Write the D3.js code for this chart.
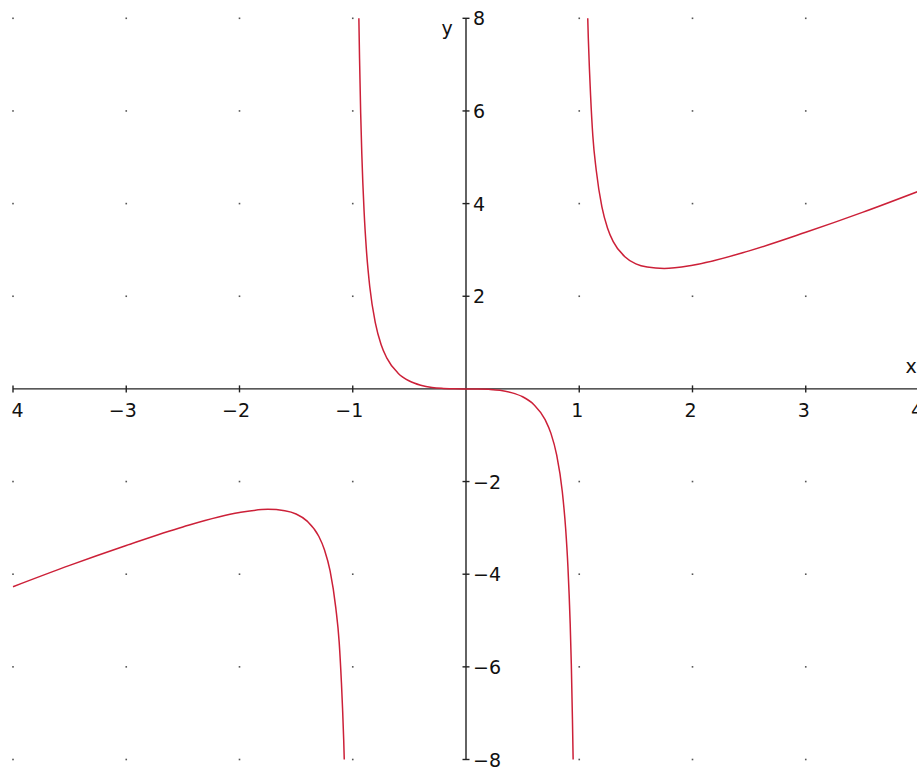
<!DOCTYPE html>
<html>
<head>
<meta charset="utf-8">
<script src="https://cdn.jsdelivr.net/npm/d3@7"></script>
<style>
  html, body { margin: 0; padding: 0; background: #fff; }
  svg { display: block; }
  text { font-family: "DejaVu Sans", Verdana, sans-serif; fill: #111; }
</style>
</head>
<body>
<div id="chart"></div>
<script>
// values
const xDomain = [-4, 4];
const yDomain = [-8, 8];
const xTicks = [-4, -3, -2, -1, 1, 2, 3, 4];
const xTickLabels = ["4", "−3", "−2", "−1", "1", "2", "3", "4"]; // left "−" is cut off in the picture
const yTicks = [-8, -6, -4, -2, 2, 4, 6, 8];
const yTickLabels = ["−8", "−6", "−4", "−2", "2", "4", "6", "8"];
const dotX = [-4, -3, -2, -1, 1, 2, 3, 4];
const dotY = [-8, -6, -4, -2, 2, 4, 6, 8];

// left branch (x < -1)
const leftX = [-4, -3.5, -3, -2.5, -2, -1.75, -1.6, -1.5, -1.4, -1.3, -1.25, -1.2, -1.15, -1.12, -1.1, -1.09, -1.08, -1.075];
const leftY = [-4.27, -3.81, -3.38, -2.98, -2.67, -2.6, -2.63, -2.7, -2.86, -3.18, -3.47, -3.93, -4.72, -5.46, -6.34, -6.9, -7.57, -8];
// middle branch (-1 < x < 1)
const midX = [-0.946, -0.94, -0.93, -0.92, -0.9, -0.88, -0.85, -0.8, -0.75, -0.7, -0.6, -0.5, -0.4, -0.3, -0.2, -0.1, 0,
              0.1, 0.2, 0.3, 0.4, 0.5, 0.6, 0.7, 0.75, 0.8, 0.85, 0.88, 0.9, 0.92, 0.93, 0.94, 0.946];
const midY = [8, 7.14, 5.95, 5.07, 3.84, 3.02, 2.21, 1.42, 0.96, 0.67, 0.34, 0.17, 0.08, 0.03, 0.01, 0.001, 0,
              -0.001, -0.01, -0.03, -0.08, -0.17, -0.34, -0.67, -0.96, -1.42, -2.21, -3.02, -3.84, -5.07, -5.95, -7.14, -8];
// right branch (x > 1)
const rightX = [1.075, 1.08, 1.09, 1.1, 1.12, 1.15, 1.2, 1.25, 1.3, 1.4, 1.5, 1.6, 1.75, 2, 2.5, 3, 3.5, 4];
const rightY = [8, 7.57, 6.9, 6.34, 5.46, 4.72, 3.93, 3.47, 3.18, 2.86, 2.7, 2.63, 2.6, 2.67, 2.98, 3.38, 3.81, 4.27];

const width = 917, height = 771;

const svg = d3.select("#chart").append("svg")
  .attr("width", width)
  .attr("height", height);

const x = d3.scaleLinear().domain(xDomain).range([13, 919]);
const y = d3.scaleLinear().domain(yDomain).range([759.5, 18.3]);

// grid dots
const dots = [];
dotX.forEach(a => dotY.forEach(b => dots.push([a, b])));
svg.append("g").selectAll("rect")
  .data(dots)
  .join("rect")
  .attr("x", d => x(d[0]) - 0.8)
  .attr("y", d => y(d[1]) - 0.8)
  .attr("width", 1.6)
  .attr("height", 1.6)
  .attr("fill", "#555");

// axes
const axes = svg.append("g").attr("stroke", "#222").attr("stroke-width", 1.4);
axes.append("line")
  .attr("x1", x(-4)).attr("x2", width)
  .attr("y1", y(0)).attr("y2", y(0));
axes.append("line")
  .attr("x1", x(0)).attr("x2", x(0))
  .attr("y1", y(8)).attr("y2", y(-8));

axes.selectAll(".xt")
  .data(xTicks)
  .join("line")
  .attr("class", "xt")
  .attr("x1", d => x(d)).attr("x2", d => x(d))
  .attr("y1", y(0) - 3.5).attr("y2", y(0) + 3.5);

axes.selectAll(".yt")
  .data(yTicks)
  .join("line")
  .attr("class", "yt")
  .attr("x1", x(0) - 3.5).attr("x2", x(0) + 3.5)
  .attr("y1", d => y(d)).attr("y2", d => y(d));

// tick labels
svg.append("g").selectAll("text")
  .data(xTicks)
  .join("text")
  .attr("x", d => x(d) + (d < 0 ? 10.5 : 4))
  .attr("y", y(0) + 28.5)
  .attr("text-anchor", "end")
  .attr("font-size", 19)
  .text((d, i) => xTickLabels[i]);

svg.append("g").selectAll("text")
  .data(yTicks)
  .join("text")
  .attr("x", x(0) + 7)
  .attr("y", d => y(d) + 7)
  .attr("text-anchor", "start")
  .attr("font-size", 19)
  .text((d, i) => yTickLabels[i]);

// axis names
svg.append("text")
  .attr("x", 447).attr("y", 35)
  .attr("text-anchor", "middle")
  .attr("font-size", 19)
  .text("y");
svg.append("text")
  .attr("x", 911).attr("y", 373)
  .attr("text-anchor", "middle")
  .attr("font-size", 19)
  .text("x");

// curve
const line = d3.line()
  .x(d => x(d[0]))
  .y(d => y(d[1]))
  .curve(d3.curveMonotoneX);

const branches = [
  d3.zip(leftX, leftY),
  d3.zip(midX, midY),
  d3.zip(rightX, rightY)
];

svg.append("g").selectAll("path")
  .data(branches)
  .join("path")
  .attr("d", line)
  .attr("fill", "none")
  .attr("stroke", "#cc2038")
  .attr("stroke-width", 1.5);
</script>
</body>
</html>
